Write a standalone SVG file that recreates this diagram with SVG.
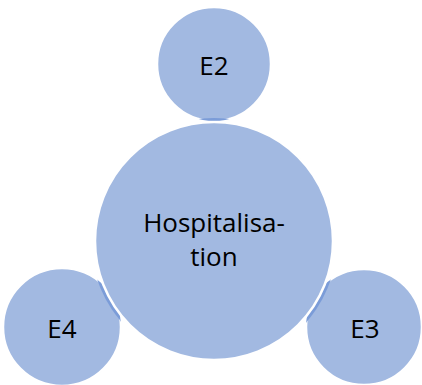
<svg xmlns="http://www.w3.org/2000/svg" width="422" height="385" viewBox="0 0 422 385">
<style>
.c{fill:#A2B9E1;stroke:#FFFFFF;stroke-width:2.5}
.lens{fill:#7B9CD8}
.t{font-family:"Open Sans","Liberation Sans",sans-serif;font-size:26px;fill:#000000;text-anchor:middle}
</style>
<defs>
<clipPath id="clipE2"><circle cx="214" cy="64" r="57"/></clipPath>
<clipPath id="clipE4"><circle cx="62" cy="327" r="59"/></clipPath>
<clipPath id="clipE3"><circle cx="364" cy="327" r="58"/></clipPath>
</defs>
<g id="E2">
<circle class="c" cx="214" cy="64" r="57"/>
<text class="t" x="214" y="75">E2</text>
</g>
<g id="E4">
<circle class="c" cx="62" cy="327" r="59"/>
<text class="t" x="62" y="338">E4</text>
</g>
<g id="E3">
<circle class="c" cx="364" cy="327" r="58"/>
<text class="t" x="365" y="338">E3</text>
</g>
<g id="connectors">
<circle class="lens" cx="214" cy="241" r="123" clip-path="url(#clipE2)"/>
<circle class="lens" cx="214" cy="241" r="123" clip-path="url(#clipE4)"/>
<circle class="lens" cx="214" cy="241" r="123" clip-path="url(#clipE3)"/>
</g>
<g id="Hospitalisation">
<circle class="c" cx="214" cy="241" r="119" stroke-width="3"/>
<text class="t" x="214" y="232">Hospitalisa-</text>
<text class="t" x="214" y="266">tion</text>
</g>
</svg>
